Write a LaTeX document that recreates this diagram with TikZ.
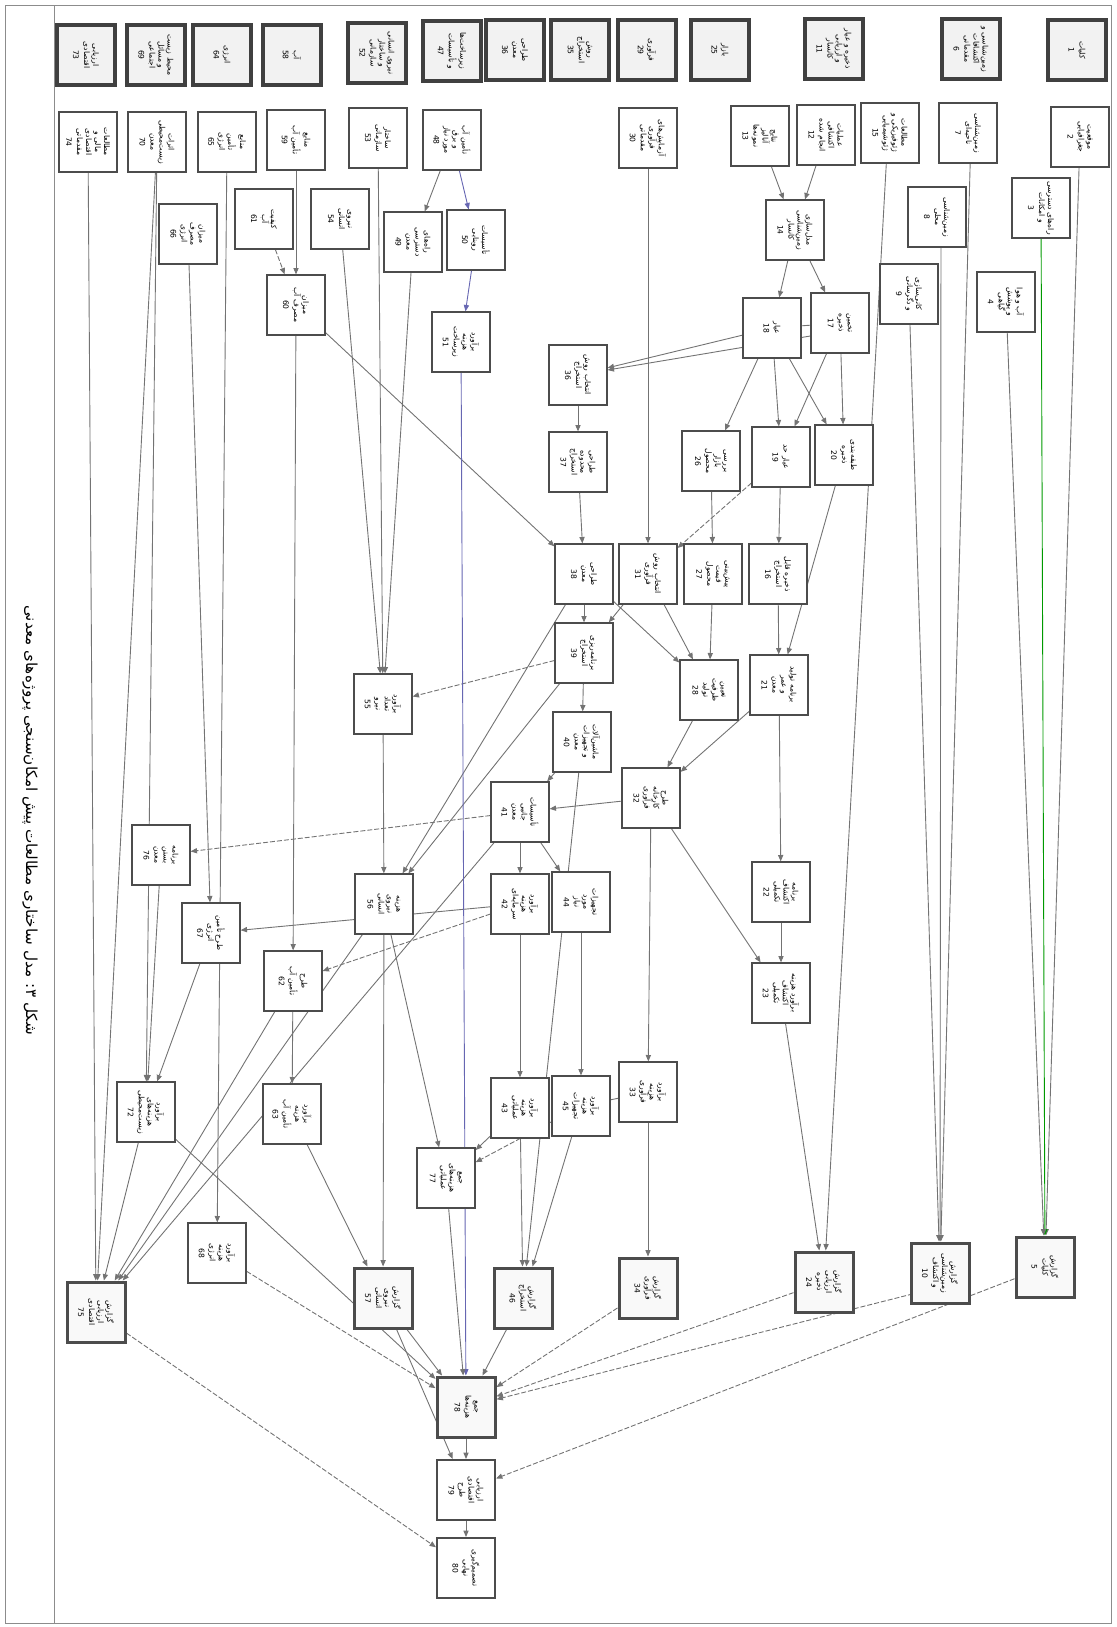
\documentclass[tikz,border=0pt]{standalone}
\usepackage{fontspec}
\setmainfont{DejaVu Sans}
\newfontfamily\arabicfont[Script=Arabic]{DejaVu Sans}
\TeXXeTstate=1
\usetikzlibrary{arrows.meta,calc}
\pgfdeclarelayer{bg}
\pgfsetlayers{bg,main}
\newcommand\fatxt[1]{{\arabicfont\beginR#1\endR}}
\tikzset{
 bx/.style={draw=black!70, fill=white, line width=0.6pt, rotate=-90, minimum width=30pt, minimum height=29pt, inner sep=0.5pt, text width=27pt, align=center, font=\fontsize{3.8}{4.5}\selectfont},
 hd/.style={bx, line width=1.7pt, draw=black!75, fill=gray!10},
 rp/.style={bx, line width=1.5pt, fill=gray!5},
 md/.style={bx, line width=1pt},
 ar/.style={draw=black!55, line width=0.45pt, -{Triangle[length=3.2pt,width=2.6pt]}},
 da/.style={ar, dash pattern=on 2.5pt off 1pt},
 bl/.style={ar, draw=blue!50!black!60},
 gn/.style={ar, draw=green!60!black},
 pl/.style={draw=black!55, line width=0.45pt},
}
\begin{document}
\begin{tikzpicture}[x=0.5pt,y=-0.5pt]
\useasboundingbox (0,0) rectangle (1116,1627);
\draw[black!45, line width=0.5pt] (5,6) rectangle (1111,1623);
\draw[black!45, line width=0.5pt] (54,6) -- (54,1623);
\node[rotate=-90, font=\fontsize{7.6}{9}\selectfont] (cap) at (30,820) {\fatxt{شکل ۳: مدل ساختاری مطالعات پیش امکان‌سنجی پروژه‌های معدنی}};
% headers
\node[hd] (n1) at (1077,50) {\fatxt{کلیات}\\[1pt]1};
\node[hd] (n6) at (971,49) {\fatxt{زمین‌شناسی و}\\\fatxt{اکتشافات}\\\fatxt{مقدماتی}\\[1pt]6};
\node[hd] (n11) at (834,49) {\fatxt{ذخیره و عیار}\\\fatxt{و ارزیابی}\\\fatxt{کانسار}\\[1pt]11};
\node[hd] (n25) at (720,50) {\fatxt{بازار}\\[1pt]25};
\node[hd] (n29) at (647,50) {\fatxt{فرآوری}\\[1pt]29};
\node[hd] (n35) at (580,50) {\fatxt{روش}\\\fatxt{استخراج}\\[1pt]35};
\node[hd] (nHA) at (515,50) {\fatxt{طراحی}\\\fatxt{معدن}\\[1pt]36};
\node[hd] (n47) at (452,51) {\fatxt{زیرساخت‌ها}\\\fatxt{و تأسیسات}\\[1pt]47};
\node[hd] (n52) at (377,53) {\fatxt{نیروی انسانی}\\\fatxt{و ساختار}\\\fatxt{سازمانی}\\[1pt]52};
\node[hd] (n58) at (292,55) {\fatxt{آب}\\[1pt]58};
\node[hd] (n64) at (222,55) {\fatxt{انرژی}\\[1pt]64};
\node[hd] (n69) at (156,55) {\fatxt{محیط زیست}\\\fatxt{و مسائل}\\\fatxt{اجتماعی}\\[1pt]69};
\node[hd] (n73) at (86,55) {\fatxt{ارزیابی}\\\fatxt{اقتصادی}\\[1pt]73};
% group 1
\node[bx] (n2) at (1080,137) {\fatxt{موقعیت}\\\fatxt{جغرافیایی}\\[1pt]2};
\node[bx] (n3) at (1041,208) {\fatxt{راه‌های دسترسی}\\\fatxt{و امکانات}\\[1pt]3};
\node[bx] (n4) at (1006,302) {\fatxt{آب و هوا}\\\fatxt{و پوشش}\\\fatxt{گیاهی}\\[1pt]4};
\node[rp] (n5) at (1045,1267) {\fatxt{گزارش}\\\fatxt{کلیات}\\[1pt]5};
% group 6
\node[bx] (n7) at (968,133) {\fatxt{زمین‌شناسی}\\\fatxt{ناحیه‌ای}\\[1pt]7};
\node[bx] (n8) at (937,217) {\fatxt{زمین‌شناسی}\\\fatxt{محلی}\\[1pt]8};
\node[bx] (n9) at (909,294) {\fatxt{کانی‌سازی}\\\fatxt{و دگرسانی}\\[1pt]9};
\node[rp] (n10) at (940,1273) {\fatxt{گزارش}\\\fatxt{زمین‌شناسی}\\\fatxt{و اکتشاف}\\[1pt]10};
% group 11
\node[bx] (n12) at (826,135) {\fatxt{عملیات}\\\fatxt{اکتشافی}\\\fatxt{انجام شده}\\[1pt]12};
\node[bx] (n13) at (760,136) {\fatxt{نتایج}\\\fatxt{آنالیز}\\\fatxt{نمونه‌ها}\\[1pt]13};
\node[bx] (n15) at (890,133) {\fatxt{مطالعات}\\\fatxt{ژئوفیزیکی و}\\\fatxt{ژئوشیمیایی}\\[1pt]15};
\node[bx] (n14) at (795,230) {\fatxt{مدل‌سازی}\\\fatxt{زمین‌شناسی}\\\fatxt{کانسار}\\[1pt]14};
\node[bx] (n18) at (772,328) {\fatxt{عیار}\\[1pt]18};
\node[bx] (n17) at (840,323) {\fatxt{تخمین}\\\fatxt{ذخیره}\\[1pt]17};
\node[bx] (n19) at (781,457) {\fatxt{عیار حد}\\[1pt]19};
\node[bx] (n20) at (844,455) {\fatxt{طبقه‌بندی}\\\fatxt{ذخیره}\\[1pt]20};
\node[bx] (n16) at (778,574) {\fatxt{ذخیره قابل}\\\fatxt{استخراج}\\[1pt]16};
\node[bx] (n21) at (779,685) {\fatxt{برنامه تولید}\\\fatxt{و عمر}\\\fatxt{معدن}\\[1pt]21};
\node[bx] (n22) at (781,892) {\fatxt{برنامه}\\\fatxt{اکتشاف}\\\fatxt{تکمیلی}\\[1pt]22};
\node[bx] (n23) at (781,993) {\fatxt{برآورد هزینه}\\\fatxt{اکتشاف}\\\fatxt{تکمیلی}\\[1pt]23};
\node[rp] (n24) at (824,1282) {\fatxt{گزارش}\\\fatxt{ارزیابی}\\\fatxt{ذخیره}\\[1pt]24};
% group 25 / 29
\node[bx] (n26) at (711,461) {\fatxt{بررسی}\\\fatxt{بازار}\\\fatxt{محصول}\\[1pt]26};
\node[bx] (n27) at (713,574) {\fatxt{پیش‌بینی}\\\fatxt{قیمت}\\\fatxt{محصول}\\[1pt]27};
\node[bx] (n28) at (709,690) {\fatxt{تعیین}\\\fatxt{ظرفیت}\\\fatxt{تولید}\\[1pt]28};
\node[bx] (n30) at (648,138) {\fatxt{آزمایش‌های}\\\fatxt{فرآوری}\\\fatxt{مقدماتی}\\[1pt]30};
\node[bx] (n31) at (648,574) {\fatxt{انتخاب روش}\\\fatxt{فرآوری}\\[1pt]31};
\node[bx] (n32) at (651,798) {\fatxt{طرح}\\\fatxt{کارخانه}\\\fatxt{فرآوری}\\[1pt]32};
\node[bx] (n33) at (648,1092) {\fatxt{برآورد}\\\fatxt{هزینه}\\\fatxt{فرآوری}\\[1pt]33};
\node[rp] (n34) at (648,1288) {\fatxt{گزارش}\\\fatxt{فرآوری}\\[1pt]34};
% group 35
\node[bx] (n36) at (578,375) {\fatxt{انتخاب روش}\\\fatxt{استخراج}\\[1pt]36};
\node[bx] (n37) at (578,462) {\fatxt{طراحی}\\\fatxt{محدوده}\\\fatxt{استخراج}\\[1pt]37};
\node[bx] (n38) at (584,574) {\fatxt{طراحی}\\\fatxt{معدن}\\[1pt]38};
\node[bx] (n39) at (584,653) {\fatxt{برنامه‌ریزی}\\\fatxt{استخراج}\\[1pt]39};
\node[bx] (n40) at (582,742) {\fatxt{ماشین‌آلات}\\\fatxt{و تجهیزات}\\\fatxt{معدن}\\[1pt]40};
\node[bx] (n41) at (520,812) {\fatxt{تأسیسات}\\\fatxt{جانبی}\\\fatxt{معدن}\\[1pt]41};
\node[bx] (n42) at (520,904) {\fatxt{برآورد}\\\fatxt{هزینه}\\\fatxt{سرمایه‌ای}\\[1pt]42};
\node[bx] (n44) at (581,902) {\fatxt{تجهیزات}\\\fatxt{مورد}\\\fatxt{نیاز}\\[1pt]44};
\node[bx] (n43) at (520,1108) {\fatxt{برآورد}\\\fatxt{هزینه}\\\fatxt{عملیاتی}\\[1pt]43};
\node[bx] (n45) at (581,1106) {\fatxt{برآورد}\\\fatxt{هزینه}\\\fatxt{تجهیزات}\\[1pt]45};
\node[rp] (n46) at (523,1298) {\fatxt{گزارش}\\\fatxt{استخراج}\\[1pt]46};
% group 47
\node[bx] (n48) at (452,140) {\fatxt{تأمین آب}\\\fatxt{و برق}\\\fatxt{مورد نیاز}\\[1pt]48};
\node[bx] (n49) at (413,242) {\fatxt{راه‌های}\\\fatxt{دسترسی}\\\fatxt{معدن}\\[1pt]49};
\node[bx] (n50) at (476,240) {\fatxt{تأسیسات}\\\fatxt{روبنایی}\\[1pt]50};
\node[bx] (n51) at (461,342) {\fatxt{برآورد}\\\fatxt{هزینه}\\\fatxt{زیرساخت}\\[1pt]51};
% group 52
\node[bx] (n53) at (378,138) {\fatxt{ساختار}\\\fatxt{سازمانی}\\[1pt]53};
\node[bx] (n54) at (340,219) {\fatxt{نیروی}\\\fatxt{انسانی}\\[1pt]54};
\node[bx] (n55) at (383,704) {\fatxt{برآورد}\\\fatxt{تعداد}\\\fatxt{نیرو}\\[1pt]55};
\node[bx] (n56) at (384,904) {\fatxt{هزینه}\\\fatxt{نیروی}\\\fatxt{انسانی}\\[1pt]56};
\node[rp] (n57) at (383,1298) {\fatxt{گزارش}\\\fatxt{نیروی}\\\fatxt{انسانی}\\[1pt]57};
% group 58
\node[bx] (n59) at (296,140) {\fatxt{منابع}\\\fatxt{تأمین آب}\\[1pt]59};
\node[bx] (n60) at (296,305) {\fatxt{میزان}\\\fatxt{مصرف آب}\\[1pt]60};
\node[bx] (n61) at (264,219) {\fatxt{کیفیت}\\\fatxt{آب}\\[1pt]61};
\node[bx] (n62) at (293,981) {\fatxt{طرح}\\\fatxt{تأمین آب}\\[1pt]62};
\node[bx] (n63) at (292,1114) {\fatxt{برآورد}\\\fatxt{هزینه}\\\fatxt{تأمین آب}\\[1pt]63};
% group 64
\node[bx] (n65) at (227,142) {\fatxt{منابع}\\\fatxt{تأمین}\\\fatxt{انرژی}\\[1pt]65};
\node[bx] (n66) at (188,234) {\fatxt{میزان}\\\fatxt{مصرف}\\\fatxt{انرژی}\\[1pt]66};
\node[bx] (n67) at (211,933) {\fatxt{طرح تأمین}\\\fatxt{انرژی}\\[1pt]67};
\node[bx] (n68) at (217,1253) {\fatxt{برآورد}\\\fatxt{هزینه}\\\fatxt{انرژی}\\[1pt]68};
% group 69 / 73
\node[bx] (n70) at (157,142) {\fatxt{اثرات}\\\fatxt{زیست‌محیطی}\\\fatxt{معدن}\\[1pt]70};
\node[bx] (n76) at (161,855) {\fatxt{برنامه}\\\fatxt{بستن}\\\fatxt{معدن}\\[1pt]76};
\node[bx] (n72) at (146,1112) {\fatxt{برآورد}\\\fatxt{هزینه‌های}\\\fatxt{زیست‌محیطی}\\[1pt]72};
\node[bx] (n74) at (88,142) {\fatxt{مطالعات}\\\fatxt{مالی و}\\\fatxt{اقتصادی}\\\fatxt{مقدماتی}\\[1pt]74};
\node[rp] (n75) at (96,1312) {\fatxt{گزارش}\\\fatxt{ارزیابی}\\\fatxt{اقتصادی}\\[1pt]75};
% synthesis
\node[bx] (n77) at (446,1178) {\fatxt{جمع}\\\fatxt{هزینه‌های}\\\fatxt{عملیاتی}\\[1pt]77};
\node[rp] (n78) at (466,1407) {\fatxt{جمع}\\\fatxt{هزینه‌ها}\\[1pt]78};
\node[md] (n79) at (466,1490) {\fatxt{ارزیابی}\\\fatxt{اقتصادی}\\\fatxt{طرح}\\[1pt]79};
\node[md] (n80) at (466,1568) {\fatxt{تصمیم‌گیری}\\\fatxt{نهایی}\\[1pt]80};
\begin{pgfonlayer}{bg}
\draw[ar] (n2) -- (n5);
\draw[gn] (n3) -- (n5);
\draw[ar] (n4) -- (n5);
\draw[ar] ($(n7)+(3,0)$) -- (n10);
\draw[ar] ($(n8)+(4,0)$) -- (n10);
\draw[ar] (n9) -- (n10);
\draw[ar] (n13) -- (n14);
\draw[ar] (n12) -- (n14);
\draw[ar] (n14) -- (n18);
\draw[ar] (n14) -- (n17);
\draw[ar] (n18) -- (n19);
\draw[ar] (n18) -- (n20);
\draw[ar] (n17) -- (n19);
\draw[ar] (n17) -- (n20);
\draw[ar] (n18) -- (n26);
\draw[ar] (n18) -- (n36);
\draw[ar] ($(n17)+(0,8)$) -- (n36);
\draw[pl] (n17) -- (n18);
\draw[ar] (n19) -- (n16);
\draw[da] (n19) -- (n31);
\draw[ar] (n20) -- (n21);
\draw[ar] (n16) -- (n21);
\draw[ar] (n21) -- (n22);
\draw[ar] (n22) -- (n23);
\draw[ar] (n21) -- (n32);
\draw[ar] (n32) -- (n23);
\draw[ar] ($(n15)+(-2,0)$) -- (n24);
\draw[ar] (n23) -- (n24);
\draw[ar] (n26) -- (n27);
\draw[ar] (n27) -- (n28);
\draw[ar] (n30) -- (n31);
\draw[ar] (n31) -- (n28);
\draw[ar] (n38) -- (n28);
\draw[ar] (n31) -- (n39);
\draw[ar] (n28) -- (n32);
\draw[ar] (n36) -- (n37);
\draw[ar] (n37) -- (n38);
\draw[ar] (n38) -- (n39);
\draw[ar] (n39) -- (n40);
\draw[ar] (n40) -- (n41);
\draw[ar] (n40) -- (n46);
\draw[ar] (n41) -- (n42);
\draw[ar] (n41) -- (n44);
\draw[ar] (n42) -- (n43);
\draw[ar] (n44) -- (n45);
\draw[ar] (n43) -- (n46);
\draw[ar] (n45) -- (n46);
\draw[ar] (n32) -- (n41);
\draw[ar] (n32) -- (n33);
\draw[ar] (n33) -- (n34);
\draw[pl] (n33) -- (n45);
\draw[da] (n39) -- (n55);
\draw[ar] (n38) -- (n56);
\draw[ar] (n39) -- (n56);
\draw[da] (n41) -- (n76);
\draw[ar] (n42) -- (n67);
\draw[da] (n42) -- (n62);
\draw[ar] (n43) -- (n77);
\draw[da] (n45) -- (n77);
\draw[ar] (n41) -- (n75);
\draw[ar] (n60) -- (n38);
\draw[ar] (n48) -- (n49);
\draw[bl] (n48) -- (n50);
\draw[bl] (n50) -- (n51);
\draw[bl] (n51) -- (n78);
\draw[ar] (n49) -- (n55);
\draw[ar] (n53) -- (n55);
\draw[ar] (n54) -- (n55);
\draw[ar] (n55) -- (n56);
\draw[ar] (n56) -- (n57);
\draw[ar] (n56) -- (n77);
\draw[ar] (n56) -- (n75);
\draw[ar] (n57) -- (n78);
\draw[ar] (n57) -- (n79);
\draw[ar] (n59) -- (n60);
\draw[da] (n61) -- (n60);
\draw[ar] (n60) -- (n62);
\draw[ar] (n62) -- (n63);
\draw[ar] (n63) -- (n57);
\draw[ar] (n62) -- (n75);
\draw[ar] (n65) -- (n68);
\draw[ar] (n66) -- (n67);
\draw[ar] (n67) -- (n72);
\draw[da] (n68) -- (n78);
\draw[ar] (n70) -- (n72);
\draw[ar] (n70) -- (n75);
\draw[ar] (n76) -- (n72);
\draw[ar] (n72) -- (n75);
\draw[ar] (n72) -- (n78);
\draw[ar] (n74) -- (n75);
\draw[ar] (n77) -- (n78);
\draw[ar] (n46) -- (n78);
\draw[da] (n34) -- (n78);
\draw[da] (n24) -- (n78);
\draw[da] ($(n10)+(0,14)$) -- (n78);
\draw[da] (n5) -- (n79);
\draw[ar] (n78) -- (n79);
\draw[ar] (n79) -- (n80);
\draw[da] (n75) -- (n80);
\end{pgfonlayer}
\end{tikzpicture}
\end{document}
